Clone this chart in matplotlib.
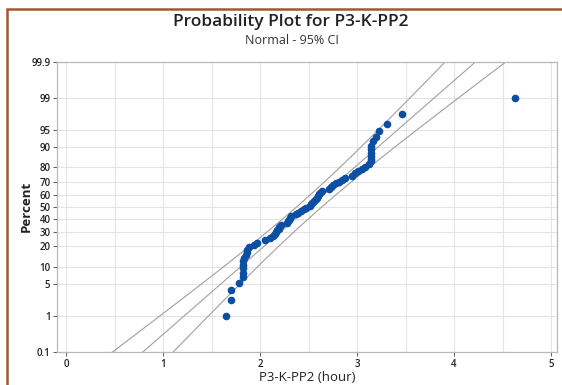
import numpy as np
import matplotlib.pyplot as plt
from matplotlib.patches import Rectangle
from statistics import NormalDist

hours = [1.65, 1.70, 1.70, 1.78, 1.82, 1.82, 1.82, 1.82, 1.82, 1.83,
         1.86, 1.87, 1.87, 1.89, 1.94, 1.97, 2.05, 2.10, 2.13, 2.15,
         2.16, 2.17, 2.19, 2.20, 2.22, 2.28, 2.29, 2.30, 2.31, 2.32,
         2.37, 2.39, 2.42, 2.45, 2.47, 2.51, 2.53, 2.54, 2.56, 2.58,
         2.59, 2.60, 2.61, 2.62, 2.64, 2.71, 2.73, 2.75, 2.78, 2.81,
         2.84, 2.88, 2.95, 2.98, 3.01, 3.05, 3.08, 3.12, 3.14, 3.14,
         3.14, 3.14, 3.14, 3.14, 3.16, 3.20, 3.23, 3.31, 3.46, 4.63]

pct_ticks = [0.1, 1, 5, 10, 20, 30, 40, 50, 60, 70, 80, 90, 95, 99, 99.9]
pct_labels = ['0.1', '1', '5', '10', '20', '30', '40', '50', '60', '70',
              '80', '90', '95', '99', '99.9']
x_ticks = [0, 1, 2, 3, 4, 5]

nd = NormalDist()
def z(p):
    return nd.inv_cdf(p)

x = np.array(hours)
n = len(x)
ranks = np.arange(1, n + 1)
pp = (ranks - 0.3) / (n + 0.4)   # median ranks
zs = np.array([z(p) for p in pp])

mu = x.mean()
sd = x.std(ddof=1)

zline = np.linspace(z(0.0005), z(0.9995), 200)
xfit = mu + zline * sd
half = 1.96 * sd * np.sqrt((1 + zline ** 2 / 2) / n)

plt.rcParams['font.family'] = ['Open Sans', 'DejaVu Sans']

fig = plt.figure(figsize=(5.62, 3.85), dpi=100)
ax = fig.add_axes([0.102, 0.086, 0.889, 0.753])

grid_c = '#e4e4e4'
line_c = '#a0a0a0'
ax.plot(xfit, zline, color=line_c, lw=0.8)
ax.plot(xfit - half, zline, color=line_c, lw=0.8)
ax.plot(xfit + half, zline, color=line_c, lw=0.8)
ax.plot(x, zs, 'o', color='#0b4ea2', markersize=5.5, markeredgewidth=0, zorder=3)

ax.set_xticks(x_ticks)
ax.set_xticks(np.arange(0.5, 5.0, 0.5), minor=True)
ax.set_yticks([z(p / 100) for p in pct_ticks])
ax.set_yticklabels(pct_labels)
ax.set_xlim(-0.09, 5.06)
ax.set_ylim(z(0.001), z(0.999))
ax.tick_params(axis='both', which='major', labelsize=7, colors='#444444',
               length=3, width=0.6, labelcolor='#222222', pad=2)
ax.tick_params(axis='x', which='minor', length=0)
for lab in ax.get_yticklabels() + ax.get_xticklabels():
    lab.set_fontweight('semibold')
ax.grid(True, which='major', color=grid_c, lw=0.8)
ax.grid(True, which='minor', axis='x', color=grid_c, lw=0.8)
ax.set_axisbelow(True)
for s in ax.spines.values():
    s.set_color('#b8b8b8')
    s.set_linewidth(0.9)

ax.set_xlabel('P3-K-PP2 (hour)', fontsize=9.5, color='#222222', labelpad=1)
ax.set_ylabel('Percent', fontsize=9.5, fontweight='bold', color='#222222', labelpad=-1)

fig.text(0.518, 0.943, 'Probability Plot for P3-K-PP2', ha='center', va='center',
         fontsize=12.5, fontweight='semibold', color='#222222')
fig.text(0.52, 0.895, 'Normal - 95% CI', ha='center', va='center',
         fontsize=9, color='#333333')

fig.patches.append(Rectangle((7 / 562, -0.1), 1.2, 1 - 8.5 / 385 + 0.1,
                             transform=fig.transFigure, fill=False,
                             edgecolor='#a5572a', lw=1.8))

fig.savefig('out.png', dpi=100)
